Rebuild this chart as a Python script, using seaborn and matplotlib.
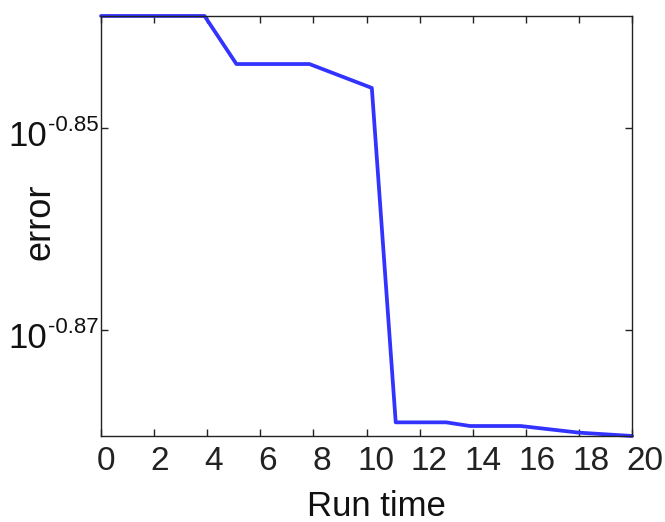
import numpy as np
import matplotlib
matplotlib.use('Agg')
import matplotlib.pyplot as plt
import matplotlib.transforms as mtransforms
import seaborn as sns
from matplotlib.ticker import FixedLocator, NullLocator

# values
run_time = [0.0, 3.9, 5.1, 7.85, 10.2, 11.1, 13.0, 13.9, 15.8, 18.0, 20.0]
error = [0.14491, 0.14491, 0.14333, 0.14333, 0.14255, 0.13208, 0.13208,
         0.13197, 0.13197, 0.13177, 0.13167]
x_ticks = [0, 2, 4, 6, 8, 10, 12, 14, 16, 18, 20]
y_tick_exps = [-0.85, -0.87]

sns.set_style('white')
plt.rcParams['font.family'] = ['Liberation Sans', 'DejaVu Sans']

fig = plt.figure(figsize=(6.65, 5.22), dpi=100)
ax = fig.add_axes([0.1519, 0.1648, 0.7985, 0.8046])

sns.lineplot(x=run_time, y=error, ax=ax, color='#3333ff', linewidth=2.7)
for ln in ax.lines:
    ln.set_clip_on(False)

ax.set_yscale('log')
ax.set_xlim(0, 20)
ax.set_ylim(min(error), max(error))

ax.xaxis.set_major_locator(FixedLocator(x_ticks))
ax.set_xticklabels([str(t) for t in x_ticks])
ax.yaxis.set_major_locator(FixedLocator([10 ** e for e in y_tick_exps]))
ax.yaxis.set_minor_locator(NullLocator())
ax.set_yticklabels(['' for e in y_tick_exps])

ax.tick_params(axis='both', which='major', direction='in', length=5, width=1,
               top=True, right=True, colors='#222222',
               bottom=True, left=True)
ax.tick_params(axis='x', labelsize=24, pad=7)

# x tick labels drift a little to the right of their ticks in the reference
for t, lab in zip(x_ticks, ax.get_xticklabels()):
    dx = (5 + 0.4 * t) / 100
    lab.set_transform(lab.get_transform() +
                      mtransforms.ScaledTranslation(dx, 0, fig.dpi_scale_trans))

# y tick labels drawn as "10" plus a small superscript exponent
for e in y_tick_exps:
    ax.annotate('10', xy=(0, 10 ** e), xycoords=('axes fraction', 'data'),
                xytext=(-54, -18), textcoords='offset pixels',
                ha='right', va='baseline', fontsize=25, color='#111111')
    ax.annotate('%.2f' % e, xy=(0, 10 ** e), xycoords=('axes fraction', 'data'),
                xytext=(-2, -3), textcoords='offset pixels',
                ha='right', va='baseline', fontsize=16, color='#111111')

for s in ax.spines.values():
    s.set_color('#222222')
    s.set_linewidth(1)

ax.set_xlabel('Run time', fontsize=25, labelpad=9.5, color='#111111')
ax.xaxis.label.set_transform(ax.xaxis.label.get_transform() +
                             mtransforms.ScaledTranslation(0.095, 0, fig.dpi_scale_trans))
ax.set_ylabel('error', fontsize=26, color='#111111')
ax.yaxis.label.set_va('center')
ax.yaxis.set_label_coords(-0.115, 0.511)

fig.savefig('out.png', dpi=100)
